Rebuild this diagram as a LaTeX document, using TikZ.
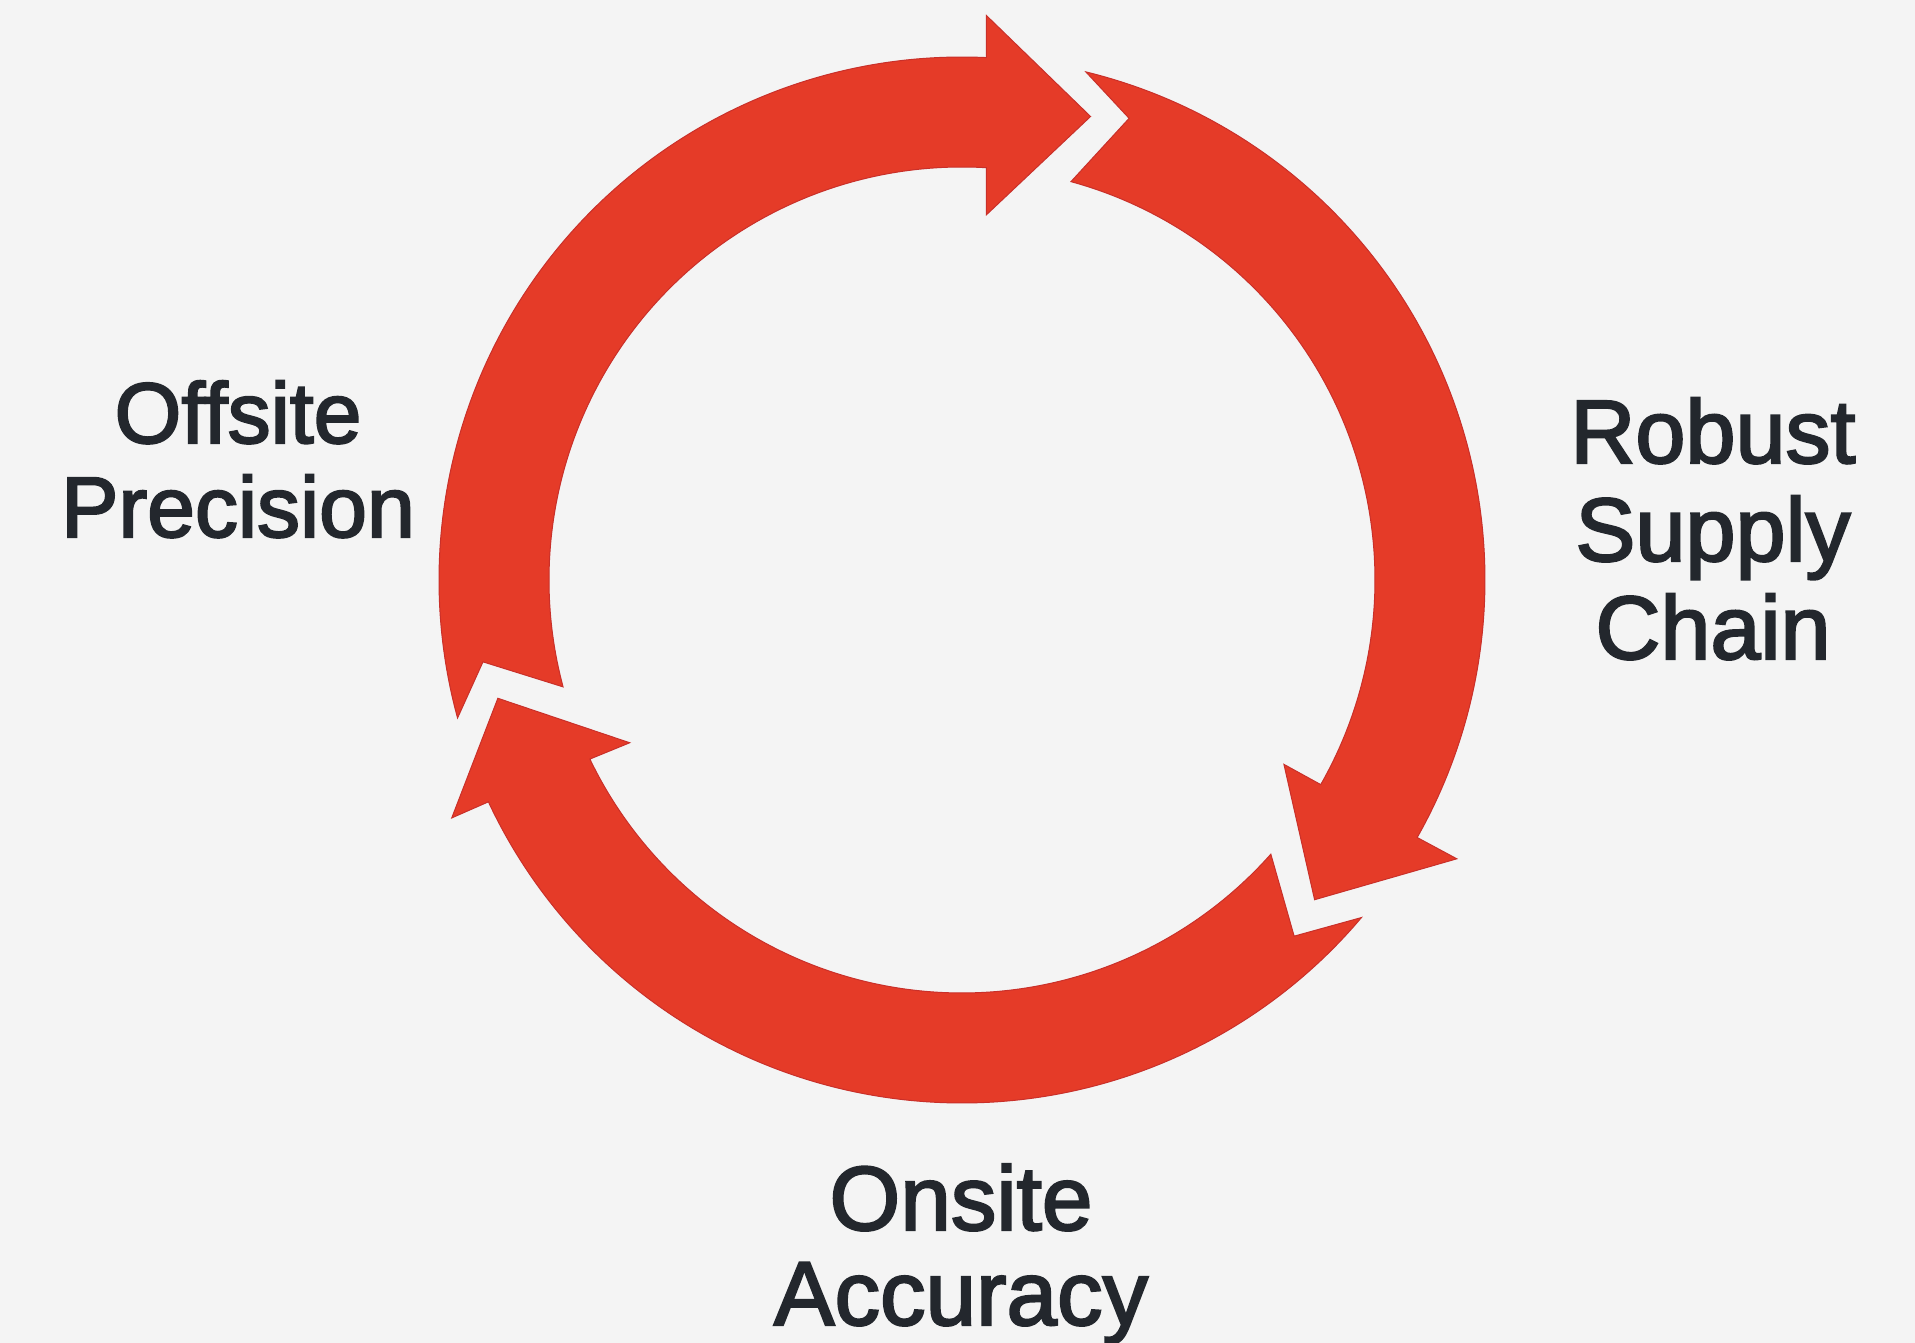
\documentclass[tikz,border=0pt]{standalone}
\usepackage{fontspec}
\setmainfont{Liberation Sans}
\newfontfamily\lblfont{Liberation Sans}[FakeBold=2.4]
\definecolor{bg}{HTML}{F4F4F4}
\definecolor{ringred}{HTML}{E53B28}
\definecolor{edgered}{HTML}{C9302A}
\definecolor{txt}{HTML}{23272D}
\begin{document}
\begin{tikzpicture}[x=1pt,y=1pt,
  cyclearrow/.style={fill=ringred, draw=edgered, line width=1pt, line join=miter},
  lbl/.style={text=txt, align=center, anchor=base, inner sep=0pt}]
\useasboundingbox (0,0) rectangle (1915,1343);
\fill[bg] (0,0) rectangle (1915,1343);
\coordinate (c) at (962,763);
\begin{scope}[shift={(c)}]
% top arrow: Offsite -> Robust
\filldraw[cyclearrow] (195.3:523) arc[start angle=195.3, end angle=87.33, radius=523]
  -- (87.52:565) -- (74.5:481) -- (86.18:366) -- (86.61:413)
  arc[start angle=86.61, end angle=195.0, radius=413] -- (189.7:486) -- cycle;
% right arrow: Robust -> Onsite
\filldraw[cyclearrow] (76.3:523) arc[start angle=76.3, end angle=-29.5, radius=523]
  -- (-29.4:568) -- (-42.2:476) -- (-29.8:371) -- (-29.7:413)
  arc[start angle=-29.7, end angle=74.7, radius=413] -- (70.1:491) -- cycle;
% bottom arrow: Onsite -> Offsite
\filldraw[cyclearrow] (-40.2:523) arc[start angle=-40.2, end angle=-154.9, radius=523]
  -- (-155.0:563) -- (-165.7:479) -- (-153.9:370) -- (-154.3:413)
  arc[start angle=-154.3, end angle=-41.6, radius=413] -- (-47.0:487) -- cycle;
\end{scope}
\node[lbl, font=\lblfont\fontsize{86}{94}\selectfont] (offsite) at (238,806) {Offsite\\Precision};
\node[lbl, font=\lblfont\fontsize{90}{98}\selectfont] (robust) at (1713,684) {Robust\\Supply\\Chain};
\node[lbl, font=\lblfont\fontsize{91}{95}\selectfont] (onsite) at (961,18) {Onsite\\Accuracy};
\end{tikzpicture}
\end{document}
